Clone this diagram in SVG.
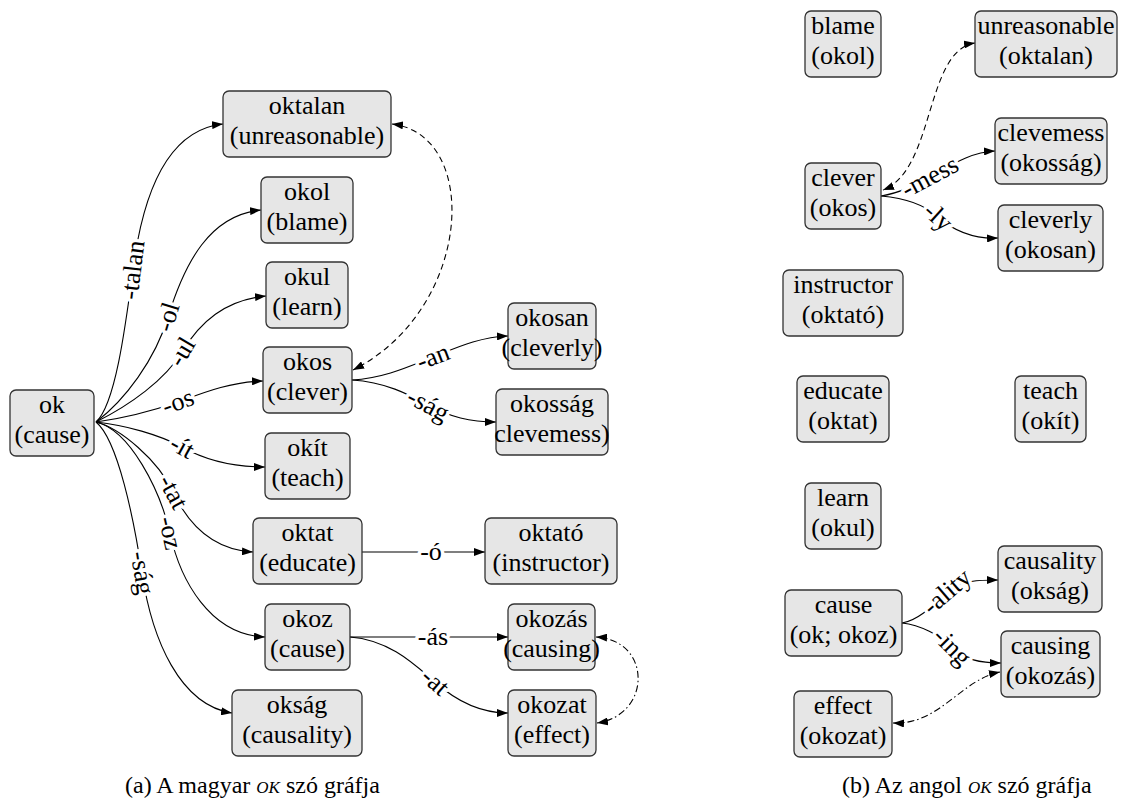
<svg xmlns="http://www.w3.org/2000/svg" width="1126" height="809" viewBox="0 0 1126 809">
<style>
.n rect{fill:#e6e6e6;stroke:#333;stroke-width:1.3}
.n text,.l,.cap{font-family:'Liberation Serif','Times New Roman',serif;font-size:26px;fill:#000}
.cap{font-size:24px}
.n text,.l{text-anchor:middle}
.e{fill:none;stroke:#000;stroke-width:1.1}
.d{stroke-dasharray:6 4}
.dd{stroke-dasharray:7 3 1.5 3}
.l{stroke:#fff;stroke-width:7;stroke-linejoin:round;paint-order:stroke}
.sc{font-variant:small-caps;font-style:italic}
</style>
<defs>
<marker id="a" viewBox="0 0 11 8" refX="11" refY="4" markerWidth="11" markerHeight="8" markerUnits="userSpaceOnUse" orient="auto-start-reverse">
<path d="M0,0 L11,4 L0,8 Z" fill="#000"/>
</marker>
</defs>
<rect width="1126" height="809" fill="#fff"/>
<g id="connectors">
<path class="e" marker-end="url(#a)" d="M96,422 C115,405 125,330 133,270 C142,200 165,130 223,124"/>
<path class="e" marker-end="url(#a)" d="M96,422 C125,400 155,360 168,317 C185,262 210,215 261,210"/>
<path class="e" marker-end="url(#a)" d="M96,422 C130,405 165,380 182,352 C200,322 225,300 266,296"/>
<path class="e" marker-end="url(#a)" d="M96,422 C125,418 155,410 178,402 C205,392 230,382 263,381"/>
<path class="e" marker-end="url(#a)" d="M96,422 C125,425 160,435 182,447 C205,460 230,467 265,467"/>
<path class="e" marker-end="url(#a)" d="M96,422 C120,428 158,460 173,492 C190,528 215,550 253,552"/>
<path class="e" marker-end="url(#a)" d="M96,422 C130,430 160,490 170,533 C180,580 210,635 265,637"/>
<path class="e" marker-end="url(#a)" d="M96,422 C118,440 134,520 142,573 C152,640 180,705 232,713"/>
<path class="e" marker-end="url(#a)" d="M352,380 C385,378 410,366 433,357 C458,347 480,337 508,336"/>
<path class="e" marker-end="url(#a)" d="M352,380 C385,382 408,394 428,405 C450,417 470,422 496,422"/>
<path class="e" marker-end="url(#a)" d="M362,552 L485,552"/>
<path class="e" marker-end="url(#a)" d="M350,637 L508,637"/>
<path class="e" marker-end="url(#a)" d="M350,637 C390,640 415,665 435,682 C455,700 480,713 508,713"/>
<path class="e d" marker-start="url(#a)" marker-end="url(#a)" d="M392,124 C482,135 472,310 353,370"/>
<path class="e dd" marker-start="url(#a)" marker-end="url(#a)" d="M596,637 C652,640 652,715 597,723"/>
<path class="e" marker-end="url(#a)" d="M881,196 C900,193 915,185 930,177 C950,166 970,152 995,151"/>
<path class="e" marker-end="url(#a)" d="M881,196 C905,198 925,205 938,217 C955,232 975,239 998,238"/>
<path class="e" marker-end="url(#a)" d="M902,623 C920,620 935,603 947,592 C962,580 980,580 998,580"/>
<path class="e" marker-end="url(#a)" d="M902,623 C920,625 940,635 952,647 C965,660 980,663 1001,663"/>
<path class="e d" marker-start="url(#a)" marker-end="url(#a)" d="M975,43 C925,50 935,170 883,190"/>
<path class="e dd" marker-start="url(#a)" marker-end="url(#a)" d="M893,723 C940,725 960,680 1000,672"/>
<g transform="translate(133,270) rotate(-83)"><text class="l" y="8">-talan</text></g>
<g transform="translate(168,317) rotate(-73)"><text class="l" y="8">-ol</text></g>
<g transform="translate(182,352) rotate(-59)"><text class="l" y="8">-ul</text></g>
<g transform="translate(178,402) rotate(-20)"><text class="l" y="8">-os</text></g>
<g transform="translate(182,447) rotate(29)"><text class="l" y="8">-ít</text></g>
<g transform="translate(173,492) rotate(62)"><text class="l" y="8">-tat</text></g>
<g transform="translate(170,533) rotate(77)"><text class="l" y="8">-oz</text></g>
<g transform="translate(142,573) rotate(81)"><text class="l" y="8">-ság</text></g>
<g transform="translate(433,357) rotate(-21)"><text class="l" y="8">-an</text></g>
<g transform="translate(428,405) rotate(28)"><text class="l" y="8">-ság</text></g>
<g transform="translate(431,552)"><text class="l" y="8">-ó</text></g>
<g transform="translate(433,637)"><text class="l" y="8">-ás</text></g>
<g transform="translate(435,682) rotate(41)"><text class="l" y="8">-at</text></g>
<g transform="translate(930,177) rotate(-28)"><text class="l" y="8">-mess</text></g>
<g transform="translate(938,217) rotate(42)"><text class="l" y="8">-ly</text></g>
<g transform="translate(947,592) rotate(-41)"><text class="l" y="8">-ality</text></g>
<g transform="translate(952,647) rotate(45)"><text class="l" y="8">-ing</text></g>
</g>
<g id="n-ok" class="n"><rect x="10" y="390" width="84" height="66" rx="6"/><text x="52" y="413">ok</text><text x="52" y="443">(cause)</text></g>
<g id="n-oktalan" class="n"><rect x="223" y="91" width="168" height="66" rx="6"/><text x="307" y="114">oktalan</text><text x="307" y="144">(unreasonable)</text></g>
<g id="n-okol" class="n"><rect x="261" y="177" width="92" height="66" rx="6"/><text x="307" y="200">okol</text><text x="307" y="230">(blame)</text></g>
<g id="n-okul" class="n"><rect x="266" y="262" width="82" height="66" rx="6"/><text x="307" y="285">okul</text><text x="307" y="315">(learn)</text></g>
<g id="n-okos" class="n"><rect x="263" y="347" width="89" height="66" rx="6"/><text x="307.5" y="370">okos</text><text x="307.5" y="400">(clever)</text></g>
<g id="n-okit" class="n"><rect x="265" y="433" width="85" height="66" rx="6"/><text x="307.5" y="456">okít</text><text x="307.5" y="486">(teach)</text></g>
<g id="n-oktat" class="n"><rect x="253" y="518" width="109" height="66" rx="6"/><text x="307.5" y="541">oktat</text><text x="307.5" y="571">(educate)</text></g>
<g id="n-okoz" class="n"><rect x="265" y="604" width="85" height="66" rx="6"/><text x="307.5" y="627">okoz</text><text x="307.5" y="657">(cause)</text></g>
<g id="n-oksag" class="n"><rect x="232" y="690" width="130" height="66" rx="6"/><text x="297" y="713">okság</text><text x="297" y="743">(causality)</text></g>
<g id="n-okosan" class="n"><rect x="508" y="303" width="88" height="66" rx="6"/><text x="552" y="326">okosan</text><text x="552" y="356">(cleverly)</text></g>
<g id="n-okossag" class="n"><rect x="496" y="389" width="112" height="66" rx="6"/><text x="552" y="412">okosság</text><text x="552" y="442">clevemess)</text></g>
<g id="n-oktato" class="n"><rect x="485" y="518" width="132" height="66" rx="6"/><text x="551" y="541">oktató</text><text x="551" y="571">(instructor)</text></g>
<g id="n-okozas" class="n"><rect x="508" y="604" width="87" height="66" rx="6"/><text x="551.5" y="627">okozás</text><text x="551.5" y="657">(causing)</text></g>
<g id="n-okozat" class="n"><rect x="508" y="690" width="88" height="66" rx="6"/><text x="552" y="713">okozat</text><text x="552" y="743">(effect)</text></g>
<g id="n-blame" class="n"><rect x="805" y="11" width="76" height="66" rx="6"/><text x="843" y="34">blame</text><text x="843" y="64">(okol)</text></g>
<g id="n-unreasonable" class="n"><rect x="975" y="11" width="142" height="66" rx="6"/><text x="1046" y="34">unreasonable</text><text x="1046" y="64">(oktalan)</text></g>
<g id="n-clever" class="n"><rect x="805" y="163" width="76" height="66" rx="6"/><text x="843" y="186">clever</text><text x="843" y="216">(okos)</text></g>
<g id="n-clevemess" class="n"><rect x="995" y="118" width="112" height="66" rx="6"/><text x="1051" y="141">clevemess</text><text x="1051" y="171">(okosság)</text></g>
<g id="n-cleverly" class="n"><rect x="998" y="205" width="105" height="66" rx="6"/><text x="1050.5" y="228">cleverly</text><text x="1050.5" y="258">(okosan)</text></g>
<g id="n-instructor" class="n"><rect x="783" y="270" width="120" height="66" rx="6"/><text x="843" y="293">instructor</text><text x="843" y="323">(oktató)</text></g>
<g id="n-educate" class="n"><rect x="797" y="376" width="92" height="66" rx="6"/><text x="843" y="399">educate</text><text x="843" y="429">(oktat)</text></g>
<g id="n-teach" class="n"><rect x="1015" y="376" width="71" height="66" rx="6"/><text x="1050.5" y="399">teach</text><text x="1050.5" y="429">(okít)</text></g>
<g id="n-learn" class="n"><rect x="805" y="483" width="76" height="66" rx="6"/><text x="843" y="506">learn</text><text x="843" y="536">(okul)</text></g>
<g id="n-causality" class="n"><rect x="998" y="546" width="104" height="66" rx="6"/><text x="1050" y="569">causality</text><text x="1050" y="599">(okság)</text></g>
<g id="n-cause" class="n"><rect x="785" y="590" width="117" height="66" rx="6"/><text x="843.5" y="613">cause</text><text x="843.5" y="643">(ok; okoz)</text></g>
<g id="n-causing" class="n"><rect x="1001" y="631" width="99" height="66" rx="6"/><text x="1050.5" y="654">causing</text><text x="1050.5" y="684">(okozás)</text></g>
<g id="n-effect" class="n"><rect x="794" y="691" width="98" height="66" rx="6"/><text x="843" y="714">effect</text><text x="843" y="744">(okozat)</text></g>
<text class="cap" x="125" y="793">(a) A magyar <tspan class="sc">ok</tspan> szó gráfja</text>
<text class="cap" x="842" y="793">(b) Az angol <tspan class="sc">ok</tspan> szó gráfja</text>
</svg>
